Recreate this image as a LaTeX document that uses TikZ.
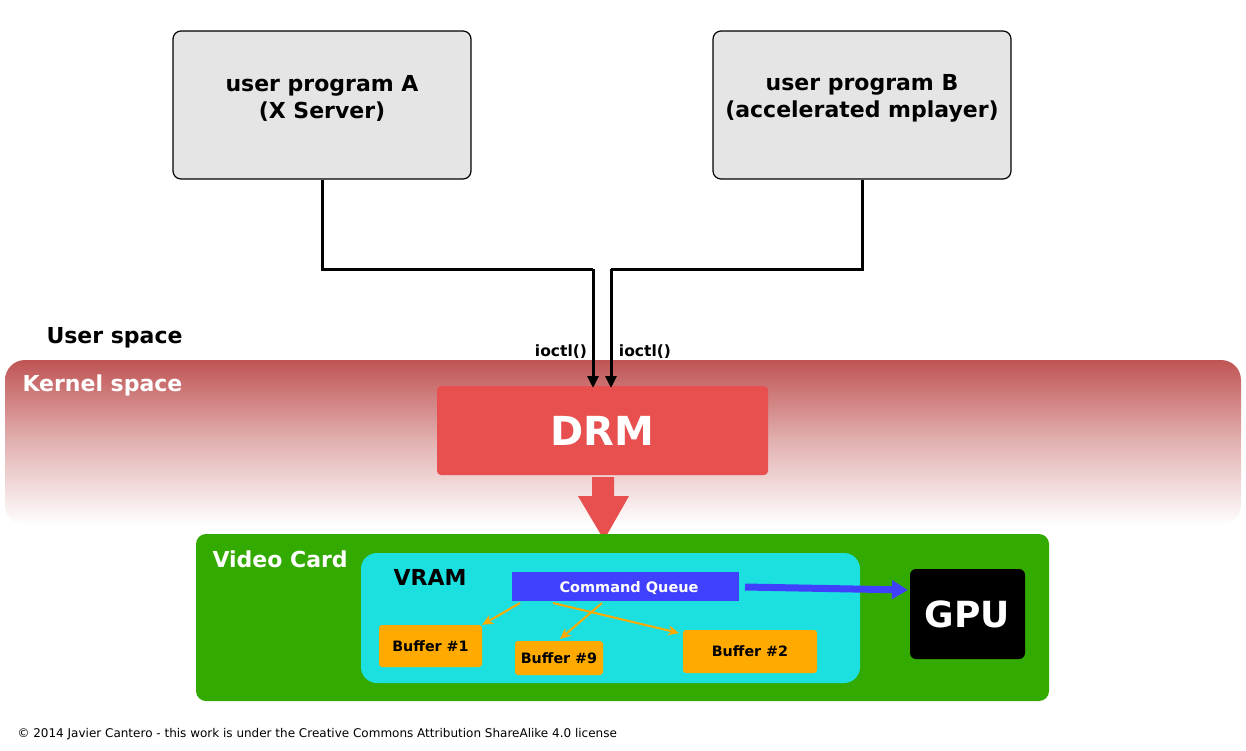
\documentclass[tikz,border=0pt]{standalone}
\usepackage{fontspec}
\setmainfont{DejaVu Sans}
\usetikzlibrary{arrows.meta}
\definecolor{boxgray}{RGB}{229,229,229}
\definecolor{kred}{RGB}{192,84,84}
\definecolor{drmred}{RGB}{232,80,80}
\definecolor{cardgreen}{RGB}{51,170,0}
\definecolor{vramcyan}{RGB}{28,224,224}
\definecolor{cqblue}{RGB}{64,64,255}
\definecolor{bufor}{RGB}{255,170,0}
\tikzset{
  fs/.style={font=\fontsize{#1}{1.23\dimexpr #1pt\relax}\selectfont\bfseries},
  progbox/.style={draw=black, line width=1.2pt, fill=boxgray, rounded corners=8pt, minimum width=298pt, minimum height=148pt},
  progtext/.style={align=center, fs=22},
  buf/.style={fill=bufor, rounded corners=3pt, fs=14.3},
  conn/.style={line width=3pt},
  oarr/.style={draw=bufor, line width=2pt, -{Stealth[length=11pt,width=10pt]}},
}
\begin{document}
\begin{tikzpicture}[x=1pt,y=-1pt]
\useasboundingbox (0,0) rectangle (1246,750);
% program boxes
\node[progbox] (A) at (322,105) {};
\node[progtext] (At) at (322,98.5) {user program A\\(X Server)};
\node[progbox] (B) at (862,105) {};
\node[progtext] (Bt) at (862,98.5) {user program B\\(accelerated mplayer)};
% kernel band
\shade[top color=kred, bottom color=white, middle color={kred!45!white}, rounded corners=20pt] (5,360) rectangle (1241,525);
\node[anchor=west, text=white, fs=22] (ks) at (19,385.5) {Kernel space};
\node[anchor=west, fs=22] (us) at (43,337.5) {User space};
% DRM
\node[fill=drmred, rounded corners=4pt, minimum width=331pt, minimum height=89pt, text=white, fs=40] (drm) at (602.5,430.5) {DRM};
% big arrow
\fill[drmred] (592,477) -- (614,477) -- (614,496) -- (629,496) -- (604,540) -- (578,496) -- (592,496) -- cycle;
% connectors
\coordinate (ja) at (322,269);
\coordinate (jb) at (862,269);
\coordinate (ta) at (593,269);
\coordinate (tb) at (611,269);
\coordinate (ea) at (593,388);
\coordinate (eb) at (611,388);
\draw[conn] (A.south) -- (ja) -- (ta);
\draw[conn, -{Triangle[length=12pt,width=11pt]}] (ta) -- (ea);
\draw[conn] (B.south) -- (jb) -- (tb);
\draw[conn, -{Triangle[length=12pt,width=11pt]}] (tb) -- (eb);
\node[fs=15.5] (io1) at (561,351.5) {ioctl()};
\node[fs=15.5] (io2) at (645,351.5) {ioctl()};
% video card
\fill[cardgreen, rounded corners=10pt] (196,534) rectangle (1049,701);
\node[anchor=west, text=white, fs=22] (vc) at (209,559) {Video Card};
\fill[vramcyan, rounded corners=16pt] (361,553) rectangle (860,683);
\node[anchor=west, fs=22] (vram) at (390,577) {VRAM};
\node[fill=cqblue, minimum width=227pt, minimum height=29pt, text=white, fs=14.5] (cq) at (625.5,586.5) {};
\node[text=white, fs=14.5] (cqt) at (629,588) {Command Queue};
\node[fill=black, rounded corners=6pt, minimum width=115pt, minimum height=90pt, text=white, fs=36] (gpu) at (967.5,614) {GPU};
\coordinate (bs) at (745,587);
\coordinate (be) at (908,590);
\draw[cqblue, line width=7pt, -{Triangle[length=16pt,width=18pt]}] (bs) -- (be);
\node[buf, minimum width=103pt, minimum height=42pt] (b1) at (430.5,646) {Buffer \#1};
\node[buf, minimum width=88pt, minimum height=34pt] (b9) at (559,658) {Buffer \#9};
\node[buf, minimum width=134pt, minimum height=43pt] (b2) at (750,651.5) {Buffer \#2};
\coordinate (o1) at (520,603);
\coordinate (o9) at (602,603);
\coordinate (o2) at (553,603);
\coordinate (t9) at (560,639);
\coordinate (t2) at (679,633);
\draw[oarr] (o1) -- (b1.north east);
\draw[oarr] (o9) -- (t9);
\draw[oarr] (o2) -- (t2);
\node[anchor=west, font=\fontsize{12}{14}\selectfont] (cr) at (14,734) {© 2014 Javier Cantero - this work is under the Creative Commons Attribution ShareAlike 4.0 license};
\end{tikzpicture}
\end{document}
